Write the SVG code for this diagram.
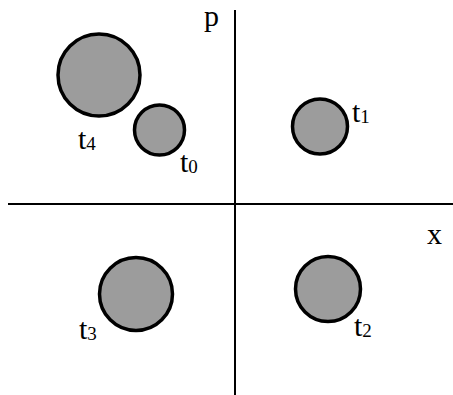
<svg xmlns="http://www.w3.org/2000/svg" width="453" height="395" viewBox="0 0 453 395">
<style>
.n{fill:#9c9c9c;stroke:#000;stroke-width:3.5}
.t{font-family:"Liberation Serif",serif;font-size:30px;fill:#000}
.s{font-size:19px}
.ax{stroke:#000;stroke-width:2;fill:none}
</style>
<rect width="453" height="395" fill="#fff"/>
<g id="connectors">
<line class="ax" x1="235" y1="10" x2="235" y2="395"/>
<line class="ax" x1="8" y1="204" x2="453" y2="204"/>
</g>
<g id="t4"><circle class="n" cx="99" cy="75" r="41"/><text class="t" x="78" y="149">t<tspan class="s" dy="1">4</tspan></text></g>
<g id="t0"><circle class="n" cx="159.5" cy="130" r="25"/><text class="t" x="180" y="172">t<tspan class="s" dy="1">0</tspan></text></g>
<g id="t1"><circle class="n" cx="320" cy="126.5" r="27.5"/><text class="t" x="352" y="122">t<tspan class="s" dy="1">1</tspan></text></g>
<g id="t3"><circle class="n" cx="136" cy="294" r="36.5"/><text class="t" x="79" y="339">t<tspan class="s" dy="1">3</tspan></text></g>
<g id="t2"><circle class="n" cx="328" cy="289" r="32.5"/><text class="t" x="354" y="336">t<tspan class="s" dy="1">2</tspan></text></g>
<g id="labels">
<text class="t" x="204" y="26">p</text>
<text class="t" x="427" y="244">x</text>
</g>
</svg>
